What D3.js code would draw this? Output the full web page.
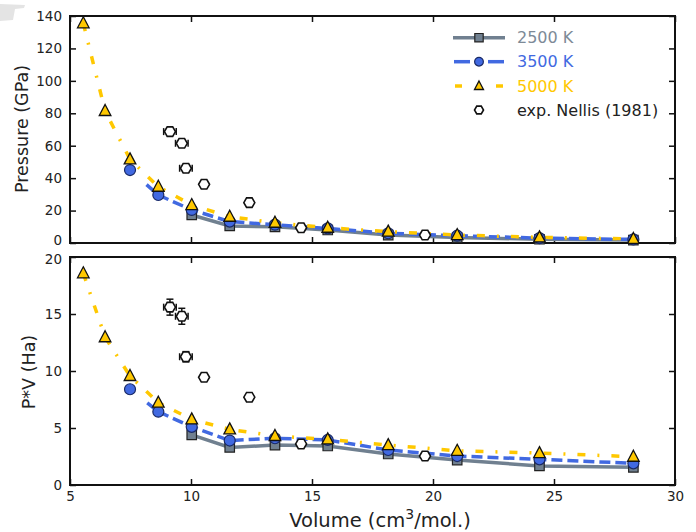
<!DOCTYPE html>
<html>
<head>
<meta charset="utf-8">
<script src="https://d3js.org/d3.v7.min.js"></script>
<style>
  body { margin: 0; background: #fff; }
  text { font-family: "DejaVu Sans", sans-serif; fill: #222; }
</style>
</head>
<body>
<div id="chart"></div>
<script>
// volumes (cm3/mol) of the simulation points
var volumes = [5.55, 6.45, 7.48, 8.65, 10.03, 11.6, 13.47, 15.65, 18.15, 21.0, 24.4, 28.28]

// pressure (GPa)
var p2500 = [17.3, 10.5, 10.0, 8.0, 4.9, 3.4, 2.3, 1.8]            // from V = 10.03
var p3500 = [45.0, 29.6, 20.4, 13.2, 11.3, 9.0, 6.0, 4.5, 3.0, 2.2] // from V = 7.48
var p5000 = [135.5, 81.4, 51.6, 34.7, 23.4, 16.2, 12.5, 9.4, 7.0, 4.9, 3.5, 2.5]

// P*V (Ha)
var pv2500 = [4.39, 3.3, 3.5, 3.42, 2.72, 2.19, 1.67, 1.55]
var pv3500 = [8.4, 6.43, 5.1, 3.9, 4.1, 3.95, 3.07, 2.54, 2.25, 1.9]
var pv5000 = [18.57, 12.96, 9.56, 7.22, 5.76, 4.88, 4.3, 4.0, 3.5, 3.0, 2.8, 2.48]

// experiment, Nellis (1981)
var expV = [9.13, 9.62, 9.79, 10.54, 12.41, 14.55, 19.67]
var expP = [68.7, 61.5, 46.1, 36.2, 24.9, 9.4, 4.9]
var expPV = [15.6, 14.8, 11.25, 9.45, 7.7, 3.6, 2.54]
var expVErr = [0.26, 0.26, 0.26, 0, 0, 0, 0]
var expPVErr = [0.7, 0.7, 0.45, 0, 0, 0, 0]

var xTicks = [5, 10, 15, 20, 25, 30]
var pTicks = [0, 20, 40, 60, 80, 100, 120, 140]
var pvTicks = [0, 5, 10, 15, 20]
var legendNames = ["2500 K", "3500 K", "5000 K", "exp. Nellis (1981)"]

const W = 696, H = 532
const LEFT = 70, RIGHT = 675
const GRAY = "#708090", BLUE = "#4169e1", GOLD = "#ffc800"

const svg = d3.select("#chart").append("svg")
    .attr("width", W).attr("height", H)

// page-corner smudge in the scan
svg.append("path")
    .attr("d", "M0,4 L25,5 L24,8 L15,9 L13,20 L0,21 Z")
    .attr("fill", "#e4e4e4")

const x = d3.scaleLinear().domain([5, 30]).range([LEFT, RIGHT])

function hexPath(r) {
    var pts = d3.range(6).map(i => [r * Math.cos(i * Math.PI / 3), r * Math.sin(i * Math.PI / 3)])
    return "M" + pts.join("L") + "Z"
}

function drawPanel(top, bottom, yDomain, yTicks, vals, exp, expErr, showX) {
    var y = d3.scaleLinear().domain(yDomain).range([bottom, top])
    var g = svg.append("g")

    // ticks on all four sides, pointing inside
    var yl = g.append("g").attr("transform", "translate(" + LEFT + ",0)")
        .call(d3.axisLeft(y).tickValues(yTicks).tickSizeInner(-6).tickSizeOuter(0).tickPadding(8))
    g.append("g").attr("transform", "translate(" + RIGHT + ",0)")
        .call(d3.axisRight(y).tickValues(yTicks).tickSizeInner(-6).tickSizeOuter(0).tickFormat(""))
    g.append("g").attr("transform", "translate(0," + top + ")")
        .call(d3.axisTop(x).tickValues(xTicks).tickSizeInner(-6).tickSizeOuter(0).tickFormat(""))
    g.append("g").attr("transform", "translate(0," + bottom + ")")
        .call(d3.axisBottom(x).tickValues(xTicks).tickSizeInner(-6).tickSizeOuter(0).tickPadding(6)
            .tickFormat(showX ? d3.format("d") : ""))
    g.selectAll(".domain").remove()
    g.selectAll(".tick line").attr("stroke", "#111").attr("stroke-width", 1.5)
    g.selectAll(".tick text").style("font-size", "13.5px").style("font-family", "DejaVu Sans, sans-serif").attr("fill", "#1a1a1a")
    // the end labels where the two panels meet sit a little apart
    yl.selectAll(".tick text").filter(d => d == yDomain[0] && showX == false).attr("dy", "0.1em")
    yl.selectAll(".tick text").filter(d => d == yDomain[1] && showX == true).attr("dy", "0.5em")

    g.append("rect")
        .attr("x", LEFT).attr("y", top)
        .attr("width", RIGHT - LEFT).attr("height", bottom - top)
        .attr("fill", "none").attr("stroke", "#111").attr("stroke-width", 2)

    var line = d3.line().x(d => x(d[0])).y(d => y(d[1]))

    var series = [
        { pts: d3.zip(volumes.slice(4), vals[0]), color: GRAY, dash: null, w: 3.5, sym: "square" },
        { pts: d3.zip(volumes.slice(2), vals[1]), color: BLUE, dash: "11,5", w: 3.5, sym: "circle", lead: 22 },
        { pts: d3.zip(volumes, vals[2]), color: GOLD, dash: "8,12,2,12", w: 3.5, sym: "triangle" }
    ]

    series.forEach(s => {
        if (s.lead) {
            // first segment: the dashes start a bit after the first point
            g.append("path").datum(s.pts.slice(0, 2)).attr("d", line)
                .attr("fill", "none").attr("stroke", s.color).attr("stroke-width", s.w)
                .attr("stroke-dasharray", "0," + s.lead + ",200")
            g.append("path").datum(s.pts.slice(1)).attr("d", line)
                .attr("fill", "none").attr("stroke", s.color).attr("stroke-width", s.w)
                .attr("stroke-dasharray", s.dash)
        } else {
            g.append("path").datum(s.pts).attr("d", line)
                .attr("fill", "none").attr("stroke", s.color).attr("stroke-width", s.w)
                .attr("stroke-dasharray", s.dash)
        }
    })
    series.forEach(s => {
        g.selectAll(null).data(s.pts).enter()
            .append("path")
            .attr("transform", d => "translate(" + x(d[0]) + "," + y(d[1]) + ")")
            .call(p => marker(p, s.sym))
    })

    // experimental points with error bars
    var expPts = d3.zip(expV, exp, expVErr, expErr || expV.map(() => 0))
    var eg = g.append("g").attr("stroke", "#111").attr("stroke-width", 1.5)
    expPts.forEach(d => {
        var cx = x(d[0]), cy = y(d[1])
        if (d[2] > 0) {
            var x0 = x(d[0] - d[2]), x1 = x(d[0] + d[2])
            eg.append("line").attr("x1", x0).attr("x2", x1).attr("y1", cy).attr("y2", cy)
            eg.append("line").attr("x1", x0).attr("x2", x0).attr("y1", cy - 3.5).attr("y2", cy + 3.5)
            eg.append("line").attr("x1", x1).attr("x2", x1).attr("y1", cy - 3.5).attr("y2", cy + 3.5)
        }
        if (d[3] > 0) {
            var y0 = y(d[1] - d[3]), y1 = y(d[1] + d[3])
            eg.append("line").attr("x1", cx).attr("x2", cx).attr("y1", y0).attr("y2", y1)
            eg.append("line").attr("x1", cx - 3.5).attr("x2", cx + 3.5).attr("y1", y0).attr("y2", y0)
            eg.append("line").attr("x1", cx - 3.5).attr("x2", cx + 3.5).attr("y1", y1).attr("y2", y1)
        }
    })
    g.selectAll(null).data(expPts).enter()
        .append("path")
        .attr("transform", d => "translate(" + x(d[0]) + "," + y(d[1]) + ")")
        .call(p => marker(p, "hex"))
    return g
}

function marker(p, sym) {
    if (sym == "square") {
        p.attr("d", d3.symbol().type(d3.symbolSquare).size(90))
            .attr("fill", GRAY).attr("stroke", "#222").attr("stroke-width", 1.2)
    } else if (sym == "circle") {
        p.attr("d", d3.symbol().type(d3.symbolCircle).size(95))
            .attr("fill", BLUE).attr("stroke", "#1a2a66").attr("stroke-width", 1.2)
    } else if (sym == "triangle") {
        p.attr("d", "M0,-6.5L5.8,4.5L-5.8,4.5Z")
            .attr("fill", GOLD).attr("stroke", "#111").attr("stroke-width", 1.3)
    } else {
        p.attr("d", hexPath(5.5))
            .attr("fill", "#fff").attr("stroke", "#111").attr("stroke-width", 1.6)
    }
}

drawPanel(16, 243, [0, 140], pTicks, [p2500, p3500, p5000], expP, null, false)
drawPanel(257, 485, [0, 20], pvTicks, [pv2500, pv3500, pv5000], expPV, expPVErr, true)

// axis titles
svg.append("text")
    .attr("transform", "translate(28,129) rotate(-90)")
    .attr("text-anchor", "middle").style("font-size", "17.5px")
    .text("Pressure (GPa)")
svg.append("text")
    .attr("transform", "translate(35,372) rotate(-90)")
    .attr("text-anchor", "middle").style("font-size", "17.5px")
    .text("P*V (Ha)")
var xl = svg.append("text")
    .attr("x", 380).attr("y", 527)
    .attr("text-anchor", "middle").style("font-size", "19.5px")
xl.append("tspan").text("Volume (cm")
xl.append("tspan").attr("dy", -8).style("font-size", "14px").text("3")
xl.append("tspan").attr("dy", 8).text("/mol.)")

// legend
var legRows = [37.7, 61.7, 86, 110]
var legColors = [GRAY, BLUE, GOLD, "#222"]
var legSyms = ["square", "circle", "triangle", "hex"]
var lg = svg.append("g")
legRows.forEach((ry, i) => {
    if (i == 0) {
        lg.append("line").attr("x1", 453).attr("x2", 505).attr("y1", ry).attr("y2", ry)
            .attr("stroke", GRAY).attr("stroke-width", 3.5)
    } else if (i == 1) {
        [[454, 470], [488, 504]].forEach(s => lg.append("line").attr("x1", s[0]).attr("x2", s[1])
            .attr("y1", ry).attr("y2", ry).attr("stroke", BLUE).attr("stroke-width", 3.5))
    } else if (i == 2) {
        [[455, 462], [496, 503]].forEach(s => lg.append("line").attr("x1", s[0]).attr("x2", s[1])
            .attr("y1", ry).attr("y2", ry).attr("stroke", GOLD).attr("stroke-width", 3.5))
    }
    var m = lg.append("path").attr("transform", "translate(479," + ry + ")")
    marker(m, legSyms[i])
    if (i == 1) m.attr("d", d3.symbol().type(d3.symbolCircle).size(60))
    if (i == 2) m.attr("d", "M0,-5L4.5,3.5L-4.5,3.5Z")
    if (i == 3) m.attr("d", hexPath(4.5))
    if (i == 0) m.attr("d", d3.symbol().type(d3.symbolSquare).size(70))
    lg.append("text").attr("x", 517).attr("y", ry + 5.5)
        .style("font-size", "16px")
        .style("fill", i == 0 ? "#7d8a97" : legColors[i])
        .text(legendNames[i])
})
</script>
</body>
</html>
